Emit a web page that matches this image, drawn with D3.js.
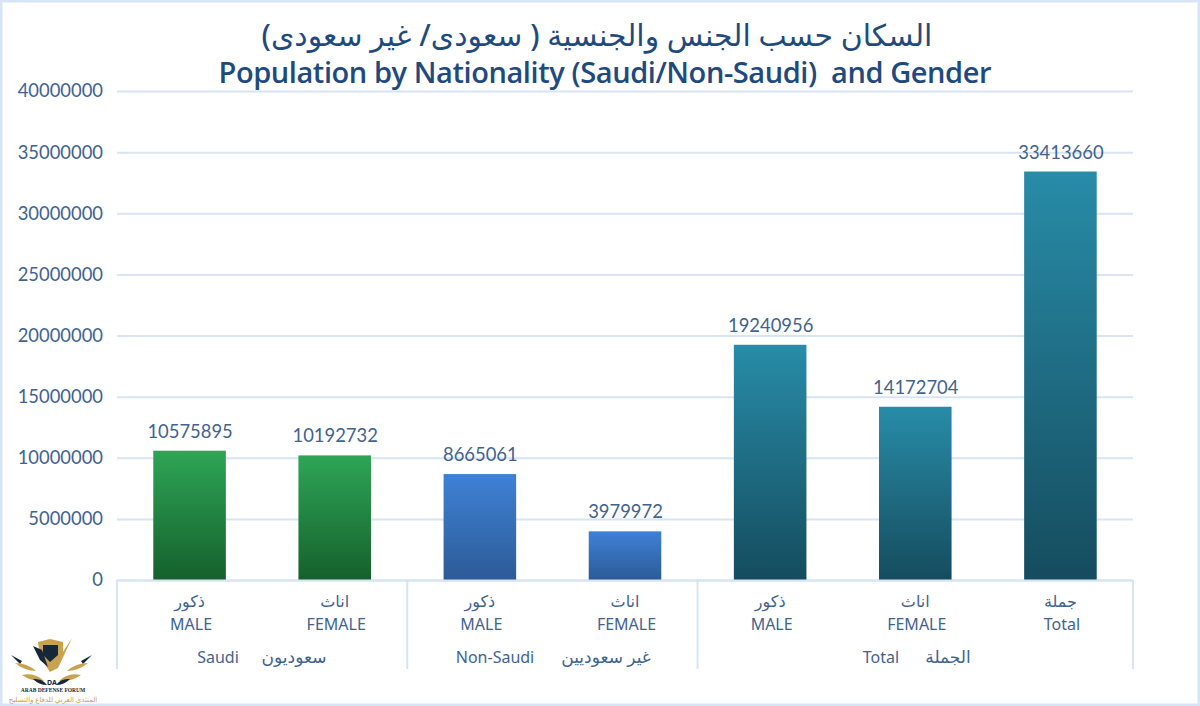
<!DOCTYPE html>
<html>
<head>
<meta charset="utf-8">
<script src="https://cdn.jsdelivr.net/npm/d3@7"></script>
<style>
html, body { margin: 0; padding: 0; background: #fff; }
text { font-family: "Noto Sans", "DejaVu Sans", sans-serif; }
</style>
</head>
<body>
<svg id="chart" width="1200" height="706"></svg>
<script>
// the values
var values = [10575895, 10192732, 8665061, 3979972, 19240956, 14172704, 33413660];
var arabicLabels = ["ذكور", "اناث", "ذكور", "اناث", "ذكور", "اناث", "جملة"];
var englishLabels = ["MALE", "FEMALE", "MALE", "FEMALE", "MALE", "FEMALE", "Total"];
var barGroups = ["saudi", "saudi", "non", "non", "total", "total", "total"];
var yTicks = [0, 5000000, 10000000, 15000000, 20000000, 25000000, 30000000, 35000000, 40000000];

// groups under the axis
var groupNames = ["saudi", "non", "total"];
var groupSpans = [2, 2, 3];
var groupEnglish = ["Saudi", "Non-Saudi", "Total"];
var groupArabic = ["سعوديون", "غير سعوديين", "الجملة"];

var titleArabic = "السكان حسب الجنس والجنسية ( سعودى/ غير سعودى)";
var titleEnglish = "Population by Nationality (Saudi/Non-Saudi)  and Gender";

var gridColor = "#d6e4f5";
var textColor = "#3f6391";
var titleColor = "#1f4a7f";
var logoGold = "#c9a24f";
var logoDark = "#14283a";

var svg = d3.select("#chart");

// frame around the picture
svg.append("rect")
	.attr("x", 1).attr("y", 1)
	.attr("width", 1198).attr("height", 704)
	.attr("fill", "#fff")
	.attr("stroke", gridColor)
	.attr("stroke-width", 3);

// gradients of the bars
var gradientStops = {
	saudi: ["#2ea556", "#15602c"],
	non: ["#3f81d6", "#2c5b96"],
	total: ["#288ca8", "#154c5e"]
};
var defs = svg.append("defs");
groupNames.forEach(function(name) {
	var g = defs.append("linearGradient")
		.attr("id", "grad-" + name)
		.attr("x1", 0).attr("y1", 0)
		.attr("x2", 0).attr("y2", 1);
	g.append("stop").attr("offset", "0%").attr("stop-color", gradientStops[name][0]);
	g.append("stop").attr("offset", "100%").attr("stop-color", gradientStops[name][1]);
});

// the scales
var x = d3.scaleBand()
	.domain(d3.range(values.length))
	.range([117, 1133])
	.paddingInner(0.5)
	.paddingOuter(0.25);

var y = d3.scaleLinear()
	.domain([0, 40000000])
	.range([580, 91]);

// the y axis, the gridlines are its ticks
var yAxis = d3.axisLeft(y)
	.tickValues(yTicks)
	.tickFormat(d3.format("d"))
	.tickSize(-1016)
	.tickPadding(14);

var yg = svg.append("g")
	.attr("transform", "translate(117,0)")
	.call(yAxis);
yg.select(".domain").remove();
yg.selectAll("line").attr("stroke", gridColor).attr("stroke-width", 2);
yg.selectAll("text")
	.attr("fill", textColor)
	.style("font-family", "Lato, 'Noto Sans', sans-serif")
	.style("font-size", "18.4px");

// the bars
svg.append("g").selectAll("rect")
	.data(values)
	.join("rect")
	.attr("x", function(d, i) { return x(i); })
	.attr("y", function(d) { return y(d); })
	.attr("width", x.bandwidth())
	.attr("height", function(d) { return y(0) - y(d); })
	.attr("fill", function(d, i) { return "url(#grad-" + barGroups[i] + ")"; });

// value labels
svg.append("g").selectAll("text")
	.data(values)
	.join("text")
	.attr("x", function(d, i) { return x(i) + x.bandwidth() / 2 + 0.5; })
	.attr("y", function(d) { return y(d) - 13; })
	.attr("text-anchor", "middle")
	.attr("fill", textColor)
	.style("font-family", "Lato, 'Noto Sans', sans-serif")
	.style("font-size", "18.4px")
	.text(function(d) { return d; });

// the category labels, arabic above english
var cats = svg.append("g").attr("fill", textColor).attr("text-anchor", "middle").style("font-size", "16px");
cats.selectAll("text.ar")
	.data(arabicLabels)
	.join("text")
	.attr("class", "ar")
	.attr("x", function(d, i) { return x(i) + x.bandwidth() / 2; })
	.attr("y", 607)
	.text(function(d) { return d; });
cats.selectAll("text.en")
	.data(englishLabels)
	.join("text")
	.attr("class", "en")
	.attr("x", function(d, i) { return x(i) + x.bandwidth() / 2 + 1.5; })
	.attr("y", 630)
	.text(function(d) { return d; });

// the axis baseline and the separators of the groups
var step = x.step();
var edges = [0].concat(Array.from(d3.cumsum(groupSpans)));
var sep = svg.append("g").attr("stroke", gridColor).attr("stroke-width", 2);
sep.append("line")
	.attr("x1", 117).attr("x2", 1133)
	.attr("y1", 580.5).attr("y2", 580.5);
sep.selectAll("line.edge")
	.data(edges)
	.join("line")
	.attr("class", "edge")
	.attr("x1", function(d) { return 117 + d * step; })
	.attr("x2", function(d) { return 117 + d * step; })
	.attr("y1", 580).attr("y2", 669);

// the group labels, english and arabic side by side
var groupEnX = [218, 495, 881];
var groupArX = [294, 606, 948];
var gl = svg.append("g").attr("fill", textColor).attr("text-anchor", "middle").style("font-size", "16px");
gl.selectAll("text.en")
	.data(groupEnglish)
	.join("text")
	.attr("class", "en")
	.attr("x", function(d, i) { return groupEnX[i]; })
	.attr("y", 663)
	.text(function(d) { return d; });
gl.selectAll("text.ar")
	.data(groupArabic)
	.join("text")
	.attr("class", "ar")
	.attr("x", function(d, i) { return groupArX[i]; })
	.attr("y", 663)
	.style("font-size", "17px")
	.text(function(d) { return d; });

// the title
svg.append("text")
	.attr("x", 597).attr("y", 46)
	.attr("text-anchor", "middle")
	.attr("fill", titleColor)
	.style("font-size", "29.9px")
	.style("font-weight", 500)
	.text(titleArabic);
svg.append("text")
	.attr("x", 605).attr("y", 83)
	.attr("text-anchor", "middle")
	.attr("fill", titleColor)
	.style("font-family", "'Open Sans', sans-serif")
	.style("font-size", "29px")
	.style("font-weight", 600)
	.attr("xml:space", "preserve")
	.attr("textLength", 773)
	.text(titleEnglish);

// the forum logo in the corner
var logo = svg.append("g");
logo.append("path").attr("d", "M38 642 L50 639 L63 642 L63 657 L50 672 L40 657 Z").attr("fill", logoGold);
logo.append("path").attr("d", "M43 645 L58 645 L58 655 L50 662 L43 655 Z").attr("fill", logoDark);
logo.append("path").attr("d", "M50 672 L72 638 L58 668 Z").attr("fill", logoGold);
logo.append("path").attr("d", "M33 646 L42 650 L48 667 L40 660 Z").attr("fill", logoDark);

// the wings, the right one is the left one mirrored
[0, 1].forEach(function(side) {
	var wing = logo.append("g")
		.attr("transform", side ? "translate(103,0) scale(-1,1)" : null);
	wing.append("path").attr("d", "M11 655 L22 661 L20 664 Z").attr("fill", logoDark);
	wing.append("path").attr("d", "M15 663 Q27 663 36 671 Q25 671 15 663 Z").attr("fill", logoGold);
	wing.append("path").attr("d", "M22 675 Q35 672 44 681 Q32 682 22 675 Z").attr("fill", logoGold);
	wing.append("path").attr("d", "M33 679 Q42 678 47 685 Q39 685 33 679 Z").attr("fill", logoDark);
});

logo.append("text").attr("x", 52).attr("y", 685)
	.attr("text-anchor", "middle").attr("fill", logoDark)
	.style("font-size", "7px").style("font-weight", 700).text("DA");
logo.append("text").attr("x", 53).attr("y", 692)
	.attr("text-anchor", "middle").attr("fill", logoDark)
	.style("font-family", "'Liberation Serif', serif")
	.style("font-size", "5.5px").style("font-weight", 700).text("ARAB DEFENSE FORUM");
logo.append("text").attr("x", 53).attr("y", 702)
	.attr("text-anchor", "middle").attr("fill", logoGold)
	.style("font-size", "7px").text("المنتدى العربي للدفاع والتسليح");
</script>
</body>
</html>
